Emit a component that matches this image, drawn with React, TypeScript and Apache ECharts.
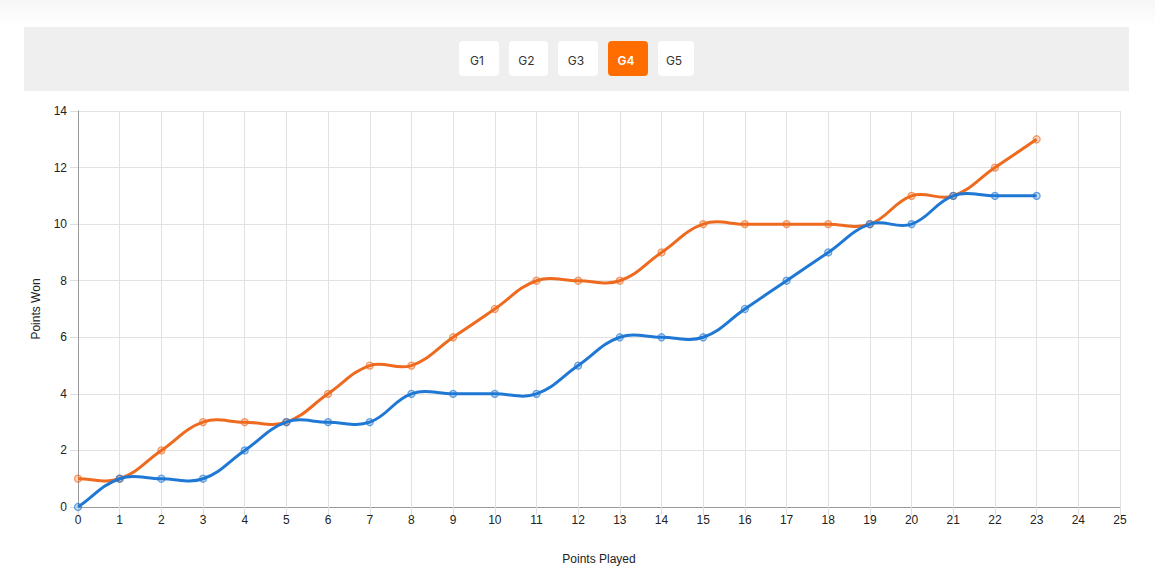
import React, { useEffect, useRef } from "react";
import * as echarts from "echarts";

const pointsPlayed = Array.from({ length: 24 }, (_, i) => i);
const blueWon = [0, 1, 1, 1, 2, 3, 3, 3, 4, 4, 4, 4, 5, 6, 6, 6, 7, 8, 9, 10, 10, 11, 11, 11];
const orangeWon = [1, 1, 2, 3, 3, 3, 4, 5, 5, 6, 7, 8, 8, 8, 9, 10, 10, 10, 10, 10, 11, 11, 12, 13];
const gameButtons = ["G1", "G2", "G3", "G4", "G5"];
const activeGame = "G4";

const BLUE = "#1f78d4";
const ORANGE = "#ee6a1f";

function splinePath(pts: number[][], t: number): string {
  const n = pts.length;
  const cps: { pa: number[]; pb: number[] }[] = [];
  for (let i = 0; i < n; i++) {
    const p1 = pts[i];
    const p0 = i > 0 ? pts[i - 1] : p1;
    const p2 = i < n - 1 ? pts[i + 1] : p1;
    const d01 = Math.hypot(p1[0] - p0[0], p1[1] - p0[1]);
    const d12 = Math.hypot(p2[0] - p1[0], p2[1] - p1[1]);
    let s01 = d01 / (d01 + d12);
    let s12 = d12 / (d01 + d12);
    if (!isFinite(s01)) s01 = 0;
    if (!isFinite(s12)) s12 = 0;
    const fa = t * s01;
    const fb = t * s12;
    cps.push({
      pa: [p1[0] - fa * (p2[0] - p0[0]), p1[1] - fa * (p2[1] - p0[1])],
      pb: [p1[0] + fb * (p2[0] - p0[0]), p1[1] + fb * (p2[1] - p0[1])],
    });
  }
  let d = `M${pts[0][0]},${pts[0][1]}`;
  for (let i = 1; i < n; i++) {
    const c1 = cps[i - 1].pb;
    const c2 = cps[i].pa;
    d += ` C${c1[0]},${c1[1]} ${c2[0]},${c2[1]} ${pts[i][0]},${pts[i][1]}`;
  }
  return d;
}

function curveSeries(values: number[], color: string, z: number) {
  return {
    type: "custom",
    z,
    silent: true,
    data: pointsPlayed.map((x, i) => [x, values[i]]),
    renderItem: (params: any, api: any) => {
      if (params.dataIndex !== 0) return null;
      const pts = pointsPlayed.map((x, i) => api.coord([x, values[i]]));
      return {
        type: "path",
        shape: { pathData: splinePath(pts, 0.4) },
        style: { stroke: color, fill: "none", lineWidth: 3 },
      };
    },
  };
}

function markerSeries(values: number[], fill: string, border: string, z: number) {
  return {
    type: "line",
    z,
    data: pointsPlayed.map((x, i) => [x, values[i]]),
    symbol: "circle",
    symbolSize: 7,
    lineStyle: { opacity: 0 },
    itemStyle: { color: fill, borderColor: border, borderWidth: 1.3 },
  };
}

export default function App() {
  const ref = useRef<HTMLDivElement>(null);
  useEffect(() => {
    document.body.style.margin = "0";
    const chart = echarts.init(ref.current!, null, { renderer: "svg" });
    const btnX = [459, 509, 558, 608, 658];
    const btnW = [40, 39, 40, 40, 36];
    const buttons: any[] = gameButtons.map((g, i) => ({
      type: "group",
      x: btnX[i],
      y: 41,
      children: [
        {
          type: "rect",
          shape: { x: 0, y: 0, width: btnW[i], height: 35, r: 4 },
          style: { fill: g === activeGame ? "#ff6d00" : "#ffffff" },
        },
        {
          type: "text",
          x: btnW[i] / 2 - 2,
          y: 19,
          style: {
            text: g,
            fill: g === activeGame ? "#ffffff" : "#333333",
            font: (g === activeGame ? "600 " : "400 ") + "12px Inter",
            align: "center",
            verticalAlign: "middle",
          },
        },
      ],
    }));
    chart.setOption({
      animation: false,
      backgroundColor: "#ffffff",
      graphic: [
        {
          type: "rect",
          shape: { x: 0, y: 0, width: 1155, height: 27 },
          style: {
            fill: new echarts.graphic.LinearGradient(0, 0, 0, 1, [
              { offset: 0, color: "#f7f7f7" },
              { offset: 1, color: "#ffffff" },
            ]),
          },
          z: -1,
        },
        {
          type: "rect",
          shape: { x: 24, y: 27, width: 1105, height: 64 },
          style: { fill: "#efefef" },
          z: -1,
        },
        ...buttons,
      ],
      grid: { left: 78, right: 35, top: 111, bottom: 78 },
      xAxis: {
        type: "value",
        min: 0,
        max: 25,
        interval: 1,
        name: "Points Played",
        nameLocation: "middle",
        nameGap: 46,
        nameTextStyle: { color: "#222", fontSize: 12, fontFamily: "Liberation Sans" },
        axisLine: { show: true, lineStyle: { color: "#999", width: 1 } },
        axisTick: { show: true, length: 8, lineStyle: { color: "#ddd" } },
        axisLabel: { color: "#222", fontSize: 12, margin: 7, fontFamily: "Liberation Sans" },
        splitLine: { show: true, lineStyle: { color: "#e2e2e2" } },
      },
      yAxis: {
        type: "value",
        min: 0,
        max: 14,
        interval: 2,
        name: "Points Won",
        nameLocation: "middle",
        nameGap: 36,
        nameTextStyle: { color: "#222", fontSize: 12, fontFamily: "Liberation Sans" },
        axisLine: { show: true, lineStyle: { color: "#999", width: 1 } },
        axisTick: { show: true, length: 8, lineStyle: { color: "#ddd" } },
        axisLabel: { color: "#222", fontSize: 12, margin: 11, fontFamily: "Liberation Sans" },
        splitLine: { show: true, lineStyle: { color: "#e2e2e2" } },
      },
      series: [
        curveSeries(orangeWon, ORANGE, 2),
        markerSeries(orangeWon, "rgba(238,106,31,0.25)", "rgba(238,106,31,0.65)", 3),
        curveSeries(blueWon, BLUE, 4),
        markerSeries(blueWon, "rgba(31,120,212,0.25)", "rgba(31,120,212,0.65)", 5),
      ],
    });
    return () => chart.dispose();
  }, []);
  return <div ref={ref} style={{ width: 1155, height: 585 }} />;
}
